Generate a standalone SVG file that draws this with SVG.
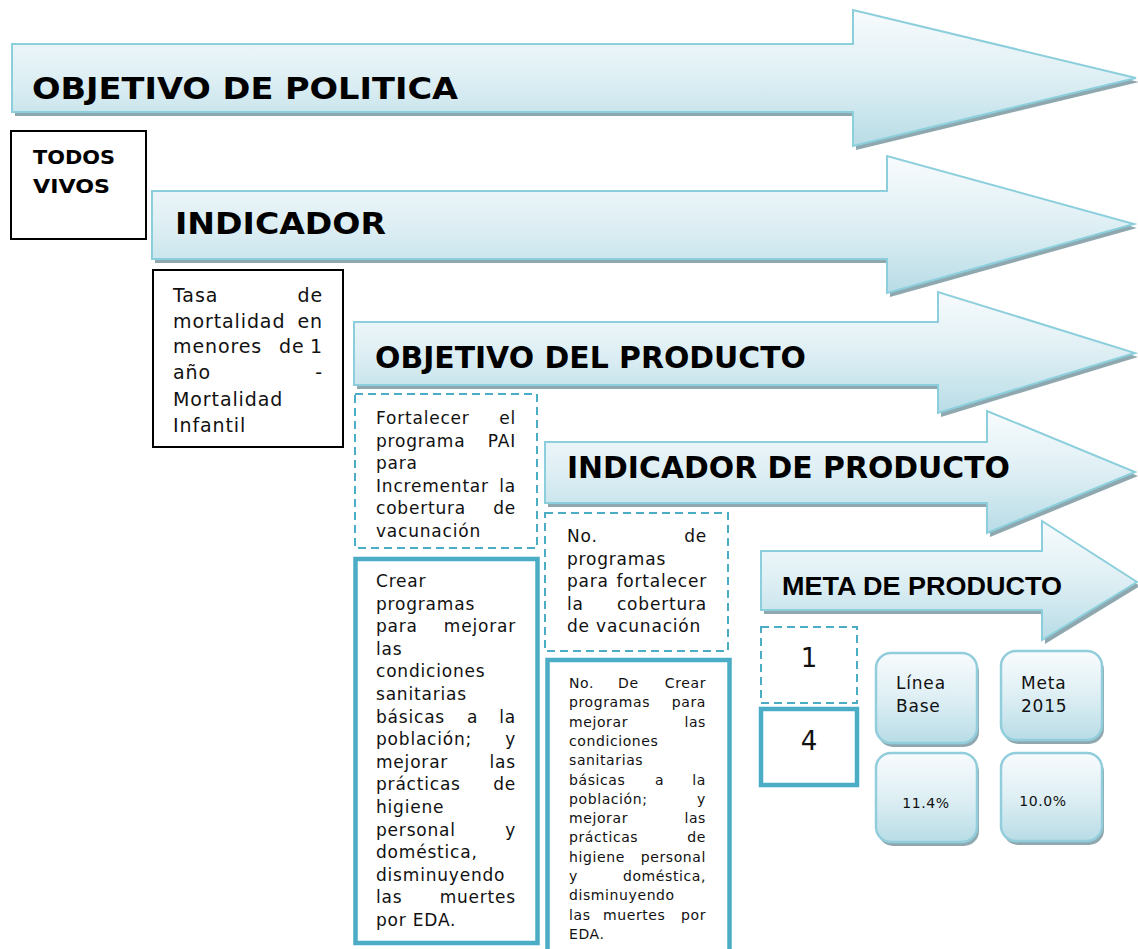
<svg xmlns="http://www.w3.org/2000/svg" width="1138" height="949" viewBox="0 0 1138 949">
<defs>
<linearGradient id="g" x1="0" y1="0" x2="0" y2="1">
<stop offset="0" stop-color="#f8fbfd"/>
<stop offset="0.5" stop-color="#deeff4"/>
<stop offset="1" stop-color="#b8dce6"/>
</linearGradient>
<style>
.sh{fill:#8fa8af}
.ar{fill:url(#g);stroke:#8ccfdc;stroke-width:2;stroke-linejoin:miter}
.hd{font-family:"DejaVu Sans",Verdana,sans-serif;font-weight:bold;font-size:30px;fill:#000}
.hc{font-family:"Liberation Sans",Arial,sans-serif;font-weight:bold;font-size:26px;fill:#000}
.bk{fill:#fff;stroke:#000;stroke-width:2}
.da{fill:#fff;stroke:#4bacc6;stroke-width:2;stroke-dasharray:8 5}
.th{fill:#fff;stroke:#4bacc6;stroke-width:4.5}
.t19{font-family:"DejaVu Sans",Verdana,sans-serif;font-size:19px;letter-spacing:0.9px;fill:#111}
.t17{font-family:"DejaVu Sans",Verdana,sans-serif;font-size:17px;letter-spacing:0.8px;fill:#111}
.t14{font-family:"DejaVu Sans",Verdana,sans-serif;font-size:14px;letter-spacing:0.6px;fill:#111}
.tb{font-family:"DejaVu Sans",Verdana,sans-serif;font-weight:bold;font-size:20px;fill:#000}
.rb{fill:url(#g);stroke:#92cddc;stroke-width:2.5}
.e{text-anchor:end}
</style>
</defs>

<g id="arrow-objetivo-politica">
<polygon class="sh" points="15,48 856,48 856,14 1139,82 856,150 856,116 15,116"/>
<polygon class="ar" points="12,44 853,44 853,10 1136,78 853,146 853,112 12,112"/>
<text class="hd" x="32" y="99" font-size="31" textLength="426" lengthAdjust="spacingAndGlyphs">OBJETIVO DE POLITICA</text>
</g>

<g id="box-todos-vivos">
<rect class="bk" x="11" y="131" width="135" height="108"/>
<text class="tb" x="33" y="164" textLength="82" lengthAdjust="spacingAndGlyphs">TODOS</text>
<text class="tb" x="33" y="193" textLength="77" lengthAdjust="spacingAndGlyphs">VIVOS</text>
</g>

<g id="arrow-indicador">
<polygon class="sh" points="155,195 890,195 890,160 1137,228 890,297 890,263 155,263"/>
<polygon class="ar" points="152,191 887,191 887,156 1134,224 887,293 887,259 152,259"/>
<text class="hd" x="175" y="234" font-size="31" textLength="211" lengthAdjust="spacingAndGlyphs">INDICADOR</text>
</g>

<g id="box-tasa">
<rect class="bk" x="153" y="270" width="190" height="177"/>
<text class="t19"><tspan x="173" y="302">Tasa</tspan><tspan class="e" x="323" y="302">de</tspan></text>
<text class="t19"><tspan x="173" y="328">mortalidad</tspan><tspan class="e" x="323" y="328">en</tspan></text>
<text class="t19"><tspan x="173" y="353">menores</tspan><tspan x="279" y="353">de</tspan><tspan class="e" x="323" y="353">1</tspan></text>
<text class="t19"><tspan x="173" y="379">año</tspan><tspan class="e" x="323" y="379">-</tspan></text>
<text class="t19" x="173" y="406">Mortalidad</text>
<text class="t19" x="173" y="432">Infantil</text>
</g>

<g id="arrow-objetivo-producto">
<polygon class="sh" points="357,326 941,326 941,296 1138,357 941,417 941,389 357,389"/>
<polygon class="ar" points="354,322 938,322 938,292 1135,353 938,413 938,385 354,385"/>
<text class="hd" x="375" y="368" font-size="29" textLength="431" lengthAdjust="spacingAndGlyphs">OBJETIVO DEL PRODUCTO</text>
</g>

<g id="box-fortalecer">
<rect class="da" x="355" y="394" width="182" height="154"/>
<text class="t17"><tspan x="376" y="424">Fortalecer</tspan><tspan class="e" x="516" y="424">el</tspan></text>
<text class="t17"><tspan x="376" y="447">programa</tspan><tspan class="e" x="516" y="447">PAI</tspan></text>
<text class="t17" x="376" y="469">para</text>
<text class="t17"><tspan x="376" y="492">Incrementar</tspan><tspan class="e" x="516" y="492">la</tspan></text>
<text class="t17"><tspan x="376" y="514">cobertura</tspan><tspan class="e" x="516" y="514">de</tspan></text>
<text class="t17" x="376" y="537">vacunación</text>
</g>

<g id="box-crear">
<rect class="th" x="355.5" y="559" width="182" height="384"/>
<text class="t17" x="376" y="587">Crear</text>
<text class="t17" x="376" y="609.6">programas</text>
<text class="t17"><tspan x="376" y="632.2">para</tspan><tspan class="e" x="516" y="632.2">mejorar</tspan></text>
<text class="t17" x="376" y="654.8">las</text>
<text class="t17" x="376" y="677.4">condiciones</text>
<text class="t17" x="376" y="700">sanitarias</text>
<text class="t17"><tspan x="376" y="722.6">básicas</tspan><tspan x="467" y="722.6">a</tspan><tspan class="e" x="516" y="722.6">la</tspan></text>
<text class="t17"><tspan x="376" y="745.2">población;</tspan><tspan class="e" x="516" y="745.2">y</tspan></text>
<text class="t17"><tspan x="376" y="767.8">mejorar</tspan><tspan class="e" x="516" y="767.8">las</tspan></text>
<text class="t17"><tspan x="376" y="790.4">prácticas</tspan><tspan class="e" x="516" y="790.4">de</tspan></text>
<text class="t17" x="376" y="813">higiene</text>
<text class="t17"><tspan x="376" y="835.6">personal</tspan><tspan class="e" x="516" y="835.6">y</tspan></text>
<text class="t17" x="376" y="858.2">doméstica,</text>
<text class="t17" x="376" y="880.8">disminuyendo</text>
<text class="t17"><tspan x="376" y="903.4">las</tspan><tspan class="e" x="516" y="903.4">muertes</tspan></text>
<text class="t17" x="376" y="926">por EDA.</text>
</g>

<g id="arrow-indicador-producto">
<polygon class="sh" points="548,446 990,446 990,415 1138,476 990,537 990,507 548,507"/>
<polygon class="ar" points="545,442 987,442 987,411 1135,472 987,533 987,503 545,503"/>
<text class="hd" x="567" y="478" font-size="29" textLength="443" lengthAdjust="spacingAndGlyphs">INDICADOR DE PRODUCTO</text>
</g>

<g id="box-no-programas">
<rect class="da" x="545" y="513" width="183" height="138"/>
<text class="t17"><tspan x="567" y="542">No.</tspan><tspan class="e" x="707" y="542">de</tspan></text>
<text class="t17" x="567" y="564.5">programas</text>
<text class="t17"><tspan x="567" y="587">para</tspan><tspan class="e" x="707" y="587">fortalecer</tspan></text>
<text class="t17"><tspan x="567" y="609.5">la</tspan><tspan class="e" x="707" y="609.5">cobertura</tspan></text>
<text class="t17" x="567" y="632">de vacunación</text>
</g>

<g id="box-no-crear">
<rect class="th" x="547.5" y="660" width="182" height="300"/>
<text class="t14"><tspan x="569" y="688">No.</tspan><tspan x="618" y="688">De</tspan><tspan class="e" x="706" y="688">Crear</tspan></text>
<text class="t14"><tspan x="569" y="707.3">programas</tspan><tspan class="e" x="706" y="707.3">para</tspan></text>
<text class="t14"><tspan x="569" y="726.6">mejorar</tspan><tspan class="e" x="706" y="726.6">las</tspan></text>
<text class="t14" x="569" y="745.9">condiciones</text>
<text class="t14" x="569" y="765.2">sanitarias</text>
<text class="t14"><tspan x="569" y="784.5">básicas</tspan><tspan x="655" y="784.5">a</tspan><tspan class="e" x="706" y="784.5">la</tspan></text>
<text class="t14"><tspan x="569" y="803.8">población;</tspan><tspan class="e" x="706" y="803.8">y</tspan></text>
<text class="t14"><tspan x="569" y="823.1">mejorar</tspan><tspan class="e" x="706" y="823.1">las</tspan></text>
<text class="t14"><tspan x="569" y="842.4">prácticas</tspan><tspan class="e" x="706" y="842.4">de</tspan></text>
<text class="t14"><tspan x="569" y="861.7">higiene</tspan><tspan class="e" x="706" y="861.7">personal</tspan></text>
<text class="t14"><tspan x="569" y="881">y</tspan><tspan class="e" x="706" y="881">doméstica,</tspan></text>
<text class="t14" x="569" y="900.3">disminuyendo</text>
<text class="t14"><tspan x="569" y="919.6">las</tspan><tspan x="603" y="919.6">muertes</tspan><tspan class="e" x="706" y="919.6">por</tspan></text>
<text class="t14" x="569" y="938.9">EDA.</text>
</g>

<g id="arrow-meta-producto">
<polygon class="sh" points="764,555 1045,555 1045,525 1140,586 1045,644 1045,614 764,614"/>
<polygon class="ar" points="761,551 1042,551 1042,521 1137,582 1042,640 1042,610 761,610"/>
<text class="hc" x="782" y="595" textLength="280" lengthAdjust="spacingAndGlyphs">META DE PRODUCTO</text>
</g>

<g id="box-1">
<rect class="da" x="761" y="627" width="96" height="76"/>
<text x="809" y="667" text-anchor="middle" font-family="DejaVu Sans, Verdana, sans-serif" font-size="26" fill="#111">1</text>
</g>

<g id="box-4">
<rect class="th" x="761" y="709" width="96" height="76"/>
<text x="809" y="750" text-anchor="middle" font-family="DejaVu Sans, Verdana, sans-serif" font-size="26" fill="#111">4</text>
</g>

<g id="box-linea-base">
<rect class="sh" x="878" y="657" width="101" height="90" rx="15"/>
<rect class="rb" x="876" y="653" width="101" height="90" rx="15"/>
<text class="t17" x="896" y="689">Línea</text>
<text class="t17" x="896" y="712">Base</text>
</g>

<g id="box-meta-2015">
<rect class="sh" x="1003" y="655" width="101" height="89" rx="15"/>
<rect class="rb" x="1001" y="651" width="101" height="89" rx="15"/>
<text class="t17" x="1021" y="689">Meta</text>
<text class="t17" x="1021" y="712">2015</text>
</g>

<g id="box-11-4">
<rect class="sh" x="878" y="757" width="101" height="89" rx="15"/>
<rect class="rb" x="876" y="753" width="101" height="89" rx="15"/>
<text class="t14" x="926" y="808" text-anchor="middle" font-size="13">11.4%</text>
</g>

<g id="box-10-0">
<rect class="sh" x="1003" y="757" width="101" height="88" rx="15"/>
<rect class="rb" x="1001" y="753" width="101" height="88" rx="15"/>
<text class="t14" x="1043" y="806" text-anchor="middle" font-size="13">10.0%</text>
</g>

<g id="connectors"></g>
</svg>
